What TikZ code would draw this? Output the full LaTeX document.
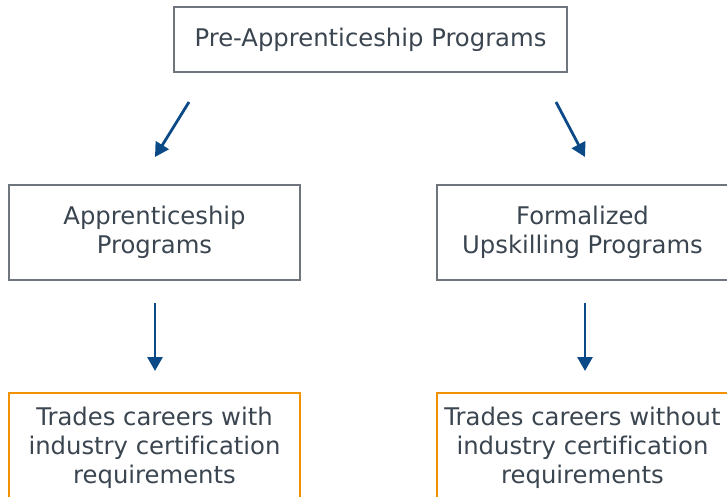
\documentclass[tikz,border=0pt]{standalone}
\usepackage{fontspec}
\setmainfont[Ligatures=NoCommon]{DejaVu Sans}
\usetikzlibrary{arrows.meta}
\definecolor{boxgray}{HTML}{6E757C}
\definecolor{textgray}{HTML}{3A4550}
\definecolor{arrowblue}{HTML}{0B4A86}
\definecolor{careerorange}{HTML}{F39200}
\tikzset{
  program/.style={draw=boxgray, line width=2pt, fill=white, text=textgray,
    align=center, font=\fontsize{24.3}{29}\selectfont, inner sep=0pt},
  career/.style={program, draw=careerorange},
  flow/.style={draw=arrowblue, line width=2.8pt,
    -{Triangle[length=14pt,width=15pt]}}
}
\begin{document}
\begin{tikzpicture}[x=1pt,y=-1pt]
\useasboundingbox (0,0) rectangle (727,497);
% program tiers
\node[program, minimum width=393pt, minimum height=65pt] (pre) at (370.5,39.5) {Pre-Apprenticeship Programs};
\node[program, minimum width=291pt, minimum height=95pt] (appr) at (154.5,232.5) {Apprenticeship\\Programs};
\node[program, minimum width=291pt, minimum height=95pt] (upsk) at (582.5,232.5) {Formalized\\Upskilling Programs};
% career outcomes
\node[career, minimum width=291pt, minimum height=110pt] (cert) at (154.5,448) {Trades careers with\\industry certification\\requirements};
\node[career, minimum width=291pt, minimum height=110pt] (nocert) at (582.5,448) {Trades careers without\\industry certification\\requirements};
% arrow end points between the tiers
\coordinate (preL) at (189,102);
\coordinate (apprIn) at (155,157);
\coordinate (preR) at (556,102);
\coordinate (upskIn) at (585,157);
\coordinate (apprOut) at (155,303);
\coordinate (certIn) at (155,371);
\coordinate (upskOut) at (585,303);
\coordinate (nocertIn) at (585,371);
\draw[flow] (preL) -- (apprIn);
\draw[flow] (preR) -- (upskIn);
\draw[flow] (apprOut) -- (certIn);
\draw[flow] (upskOut) -- (nocertIn);
\end{tikzpicture}
\end{document}
